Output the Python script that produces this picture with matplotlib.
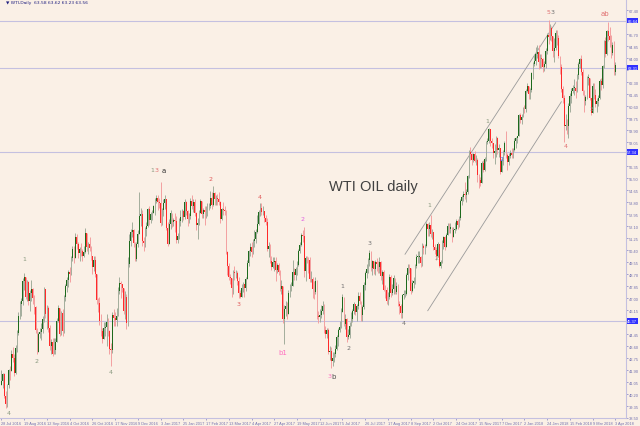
import numpy as np
import matplotlib
matplotlib.use("Agg")
import matplotlib.pyplot as plt

# daily WTI bars, 28 Jul 2016 .. 3 Apr 2018 (open = previous close)
closes = [
    # Jul/Aug 2016
    41.14, 41.6, 40.06, 39.51, 40.83, 41.93, 41.8, 43.02, 42.77, 41.71, 43.49, 44.49, 45.74,
    46.58, 46.79, 48.22, 48.52, 47.05, 48.1, 46.77, 47.33, 47.64, 46.98, 46.35, 44.7,
    # Sep 2016
    43.16, 44.44, 44.6, 44.83, 45.5, 47.62, 45.88, 46.29, 44.9, 43.58, 43.91, 43.03, 43.3,
    43.85, 45.34, 46.32, 44.48, 45.93, 44.67, 47.05, 47.83, 48.24,
    # Oct 2016
    48.81, 48.69, 49.83, 50.44, 49.81, 51.35, 50.79, 50.18, 50.44, 50.35, 49.94, 50.29, 51.6,
    50.63, 50.85, 50.52, 49.96, 49.18, 49.72, 48.7, 46.86,
    # Nov 2016
    46.67, 45.34, 44.66, 44.07, 44.89, 44.98, 45.27, 44.66, 43.41, 43.32, 45.81, 45.57, 45.42,
    45.69, 47.49, 48.03, 47.96, 47.7, 46.06, 47.08, 45.23, 49.44,
    # Dec 2016
    51.06, 51.68, 51.79, 50.93, 49.77, 50.84, 51.5, 52.83, 52.98, 51.04, 50.9, 51.9, 52.12,
    53.3, 52.49, 52.95, 53.02, 53.5, 53.9, 54.06, 53.77, 53.72,
    # Jan 2017
    52.33, 53.26, 53.76, 53.99, 51.96, 50.82, 52.25, 53.01, 52.37, 52.5, 52.48, 51.08, 51.37,
    52.42, 52.75, 53.18, 52.75, 53.78, 53.17, 52.63, 52.81,
    # Feb 2017
    53.88, 53.54, 53.83, 53.01, 52.17, 52.34, 53.0, 53.86, 52.93, 53.2, 53.11, 53.36, 53.4,
    53.5, 54.06, 53.59, 54.45, 53.99, 54.05, 54.01,
    # Mar 2017
    53.83, 52.61, 53.33, 53.2, 53.14, 50.28, 49.28, 48.49, 48.4, 47.72, 48.86, 48.75, 48.78,
    48.22, 47.34, 47.04, 47.7, 47.97, 47.73, 48.37, 49.51, 50.35, 50.6,
    # Apr 2017
    50.24, 51.03, 51.15, 51.7, 52.24, 53.08, 53.4, 53.11, 53.18, 52.65, 52.41, 50.44, 50.71,
    49.62, 49.23, 49.56, 49.62, 48.97, 49.33,
    # May 2017
    48.84, 47.66, 47.82, 45.52, 46.22, 46.43, 45.88, 47.33, 47.83, 47.84, 48.85, 48.66, 49.07,
    49.35, 50.33, 50.73, 51.47, 51.36, 48.9, 49.8, 49.7, 49.66, 48.32,
    # Jun 2017
    48.36, 47.66, 47.4, 48.19, 45.72, 45.64, 45.83, 46.08, 46.46, 44.73, 44.46, 44.74, 43.2,
    43.23, 42.53, 42.74, 43.01, 43.38, 44.24, 44.74, 44.93, 46.04,
    # Jul 2017
    47.07, 45.13, 45.52, 44.23, 44.4, 45.04, 45.49, 46.08, 46.54, 46.02, 46.4, 47.12, 46.79,
    45.77, 46.34, 47.89, 48.75, 49.04, 49.71, 50.17,
    # Aug 2017
    49.16, 49.59, 49.03, 49.58, 49.39, 49.17, 49.56, 48.59, 48.82, 47.59, 47.55, 46.78, 47.09,
    48.51, 47.37, 47.64, 48.41, 47.43, 47.87, 46.57, 46.44, 45.96, 47.23,
    # Sep 2017
    47.29, 47.3, 48.66, 49.16, 49.09, 47.48, 48.07, 48.23, 49.3, 49.89, 49.89, 49.91, 49.48,
    50.69, 50.55, 50.66, 52.22, 51.88, 52.14, 51.56, 51.67,
    # Oct 2017
    50.58, 50.42, 49.98, 50.79, 49.29, 49.58, 50.92, 51.3, 50.6, 51.45, 52.12, 51.88, 52.04,
    51.29, 51.84, 51.9, 52.47, 52.18, 52.64, 53.9, 54.15, 54.38,
    # Nov 2017
    54.3, 54.54, 55.64, 57.35, 57.2, 56.81, 57.17, 56.74, 56.76, 55.7, 55.33, 55.14, 56.55,
    56.09, 56.83, 58.02, 58.1, 58.95, 58.11, 57.99, 57.3, 57.4,
    # Dec 2017
    58.36, 57.47, 57.62, 55.96, 56.69, 57.36, 57.99, 57.14, 56.6, 57.04, 57.3, 57.16, 57.46,
    58.09, 58.36, 58.47, 59.97, 59.64, 59.84, 60.42,
    # Jan 2018
    60.37, 61.63, 62.01, 61.44, 61.73, 62.96, 63.57, 63.8, 64.3, 64.4, 63.73, 63.97, 63.95,
    63.37, 63.57, 64.47, 65.61, 65.51, 66.14, 65.56, 64.5, 64.73,
    # Feb 2018
    65.8, 65.45, 64.15, 63.39, 61.79, 61.15, 59.2, 59.29, 59.19, 60.6, 61.34, 61.68, 61.9,
    61.9, 61.68, 62.77, 63.55, 63.91, 63.01, 61.64,
    # Mar/Apr 2018
    60.99, 61.25, 62.57, 62.6, 61.15, 60.12, 62.04, 61.36, 60.71, 60.96, 61.19, 62.34, 62.06,
    63.4, 65.17, 64.3, 65.88, 65.55, 65.25, 64.38, 64.94, 63.01, 63.51,
]

highs = [
    41.9, 41.7, 41.7, 40.4, 40.9, 42.0, 42.2, 43.3, 43.5, 43.0, 43.7, 44.7, 46.0,
    46.8, 47.0, 48.4, 48.75, 48.5, 48.3, 48.2, 47.6, 48.3, 47.7, 47.2, 46.4,
    44.9, 44.6, 44.9, 45.2, 45.7, 47.8, 47.4, 46.5, 46.4, 45.1, 44.1, 44.2, 44.2,
    44.2, 45.6, 46.5, 46.3, 46.1, 46.2, 47.2, 48.0, 48.5,
    49.0, 49.2, 50.0, 50.7, 50.7, 51.6, 51.5, 51.0, 50.6, 50.9, 50.5, 50.7, 51.93,
    51.6, 51.0, 51.3, 50.7, 50.0, 50.0, 50.0, 48.7,
    47.0, 47.1, 45.9, 44.9, 45.3, 45.3, 45.9, 45.6, 44.7, 43.8, 46.0, 46.2, 46.0,
    46.3, 47.8, 48.5, 48.2, 48.0, 47.7, 47.5, 47.3, 49.9,
    51.5, 51.9, 52.4, 51.9, 51.0, 51.0, 51.8, 54.5, 53.4, 53.2, 51.3, 52.0, 52.4,
    53.4, 53.5, 53.1, 53.2, 53.6, 54.1, 54.3, 54.3, 54.1,
    55.24, 53.4, 54.0, 54.3, 54.0, 52.4, 52.6, 53.2, 53.0, 52.7, 53.0, 52.8, 51.6,
    52.7, 53.2, 53.3, 53.2, 54.0, 53.9, 53.2, 53.0,
    54.1, 54.3, 54.0, 54.0, 53.1, 52.7, 53.2, 54.0, 53.8, 53.4, 53.5, 53.5, 53.7,
    53.7, 54.6, 54.5, 54.94, 54.5, 54.3, 54.4,
    54.5, 53.9, 53.4, 53.8, 53.5, 53.2, 50.3, 49.5, 48.7, 48.4, 49.0, 49.3, 49.0,
    48.9, 48.5, 47.6, 48.0, 48.1, 48.0, 48.5, 49.7, 50.4, 50.9,
    51.0, 51.2, 51.8, 51.9, 52.9, 53.2, 53.7, 53.76, 53.5, 53.1, 52.9, 52.7, 51.0,
    50.8, 50.0, 49.9, 49.9, 49.9, 49.5,
    49.5, 49.0, 48.3, 47.8, 46.5, 46.8, 46.7, 47.6, 48.0, 48.1, 49.7, 49.1, 49.2,
    49.6, 50.5, 51.0, 51.6, 51.8, 52.0, 50.0, 50.0, 49.9, 49.9,
    48.9, 48.5, 48.2, 48.5, 48.3, 46.1, 46.2, 46.5, 46.8, 46.6, 45.0, 44.9, 44.9,
    43.6, 43.5, 43.2, 43.2, 43.7, 44.4, 44.9, 45.4, 46.3,
    47.3, 47.1, 45.9, 45.6, 44.8, 45.3, 46.0, 46.2, 46.7, 46.6, 46.6, 47.4, 47.4,
    46.8, 46.5, 48.1, 48.9, 49.4, 49.8, 50.43,
    50.3, 49.7, 49.6, 49.7, 49.8, 49.6, 49.9, 49.6, 49.0, 49.0, 47.9, 47.8, 47.4,
    48.7, 48.6, 48.0, 48.6, 48.4, 48.1, 48.0, 46.8, 46.6, 47.3,
    47.6, 47.6, 48.8, 49.4, 49.4, 49.0, 48.3, 48.5, 49.4, 50.1, 50.3, 50.3, 50.0,
    50.9, 50.8, 50.8, 52.4, 52.3, 52.4, 52.86, 51.9,
    51.7, 50.8, 50.6, 51.0, 50.7, 49.7, 51.1, 51.4, 51.4, 51.6, 52.3, 52.3, 52.3,
    52.0, 52.0, 52.4, 52.6, 52.6, 52.8, 54.0, 54.3, 54.6,
    55.2, 54.7, 55.7, 57.5, 57.7, 57.3, 57.3, 57.4, 57.1, 56.9, 55.8, 55.6, 56.7,
    56.8, 57.0, 58.1, 58.3, 59.05, 59.0, 58.3, 58.0, 57.9,
    58.5, 58.4, 57.9, 57.6, 56.9, 57.5, 58.1, 58.8, 57.3, 57.3, 57.5, 57.6, 57.6,
    58.3, 58.4, 58.5, 60.0, 60.1, 60.0, 60.5,
    60.7, 61.8, 62.2, 62.0, 61.9, 63.0, 63.7, 64.2, 64.8, 64.9, 64.9, 64.3, 64.3,
    64.0, 63.8, 64.7, 65.8, 66.66, 66.4, 66.3, 65.5, 65.4,
    66.0, 66.0, 65.6, 64.1, 63.6, 62.0, 61.4, 60.0, 59.7, 60.8, 61.5, 61.9, 62.1,
    62.5, 62.4, 62.9, 63.7, 64.0, 64.2, 63.2,
    61.7, 61.4, 62.7, 62.9, 62.5, 61.2, 62.2, 62.2, 61.8, 61.2, 61.4, 62.5, 62.6,
    63.5, 65.3, 65.5, 66.0, 66.55, 66.2, 65.6, 65.1, 65.2, 63.7,
]

lows = [
    40.9, 40.6, 39.9, 39.19, 39.3, 40.6, 41.2, 41.8, 42.5, 41.5, 41.6, 43.2, 44.4,
    45.5, 45.7, 46.5, 47.6, 46.9, 46.8, 46.5, 46.1, 46.8, 46.6, 45.9, 44.5,
    43.0, 43.2, 44.2, 44.0, 44.5, 45.3, 45.6, 44.8, 44.6, 43.3, 43.0, 42.9, 43.0,
    43.0, 43.9, 45.3, 44.3, 44.4, 44.3, 44.5, 46.8, 47.4,
    47.8, 48.1, 48.6, 49.6, 49.5, 49.8, 50.5, 49.8, 49.6, 50.0, 49.6, 49.9, 50.2,
    50.3, 50.1, 50.3, 49.7, 48.7, 48.9, 48.5, 46.6,
    46.0, 45.1, 44.3, 43.8, 44.2, 44.3, 43.6, 44.3, 43.0, 42.2, 43.1, 45.0, 45.0,
    45.0, 45.8, 47.3, 47.0, 47.4, 45.9, 45.5, 44.8, 45.0,
    49.2, 50.7, 51.3, 50.6, 49.6, 49.6, 50.6, 52.2, 52.1, 50.7, 50.3, 50.6, 51.4,
    52.0, 52.2, 52.3, 52.5, 53.0, 52.9, 53.7, 53.2, 53.4,
    52.1, 52.2, 52.8, 53.3, 51.8, 50.7, 50.9, 51.9, 52.0, 52.1, 51.7, 50.9, 50.9,
    51.2, 52.1, 52.4, 52.5, 52.6, 52.9, 52.1, 52.3,
    52.6, 53.3, 53.1, 52.8, 51.8, 51.2, 52.2, 53.0, 52.7, 52.7, 52.2, 52.7, 52.8,
    53.2, 53.4, 53.3, 53.5, 53.6, 53.6, 53.6,
    53.6, 52.3, 52.5, 52.9, 52.9, 50.1, 48.6, 48.3, 48.0, 47.1, 47.3, 48.3, 48.4,
    47.9, 47.0, 47.0, 47.1, 47.4, 47.1, 47.5, 48.4, 49.3, 50.0,
    49.9, 50.1, 50.6, 50.9, 51.6, 52.2, 52.8, 52.9, 52.9, 52.4, 52.2, 50.3, 49.9,
    49.5, 49.0, 49.1, 48.9, 48.2, 48.8,
    48.6, 47.5, 47.3, 45.2, 43.76, 45.7, 45.5, 45.9, 47.1, 47.5, 48.1, 48.3, 48.3,
    48.6, 49.3, 50.2, 50.7, 51.0, 48.5, 48.2, 49.5, 48.8, 48.1,
    48.1, 47.0, 46.9, 47.3, 45.5, 45.2, 45.3, 45.6, 45.9, 44.5, 44.2, 44.2, 43.0,
    42.6, 42.05, 42.2, 42.5, 42.8, 43.3, 43.6, 44.6, 44.9,
    46.0, 45.0, 44.8, 43.9, 44.1, 44.2, 45.1, 45.3, 45.9, 45.8, 45.4, 46.2, 46.6,
    45.4, 45.4, 46.2, 47.6, 48.4, 48.8, 49.3,
    48.9, 48.6, 48.7, 48.6, 48.9, 48.8, 48.8, 48.3, 48.0, 47.5, 47.0, 46.6, 46.5,
    46.9, 47.1, 47.2, 47.3, 47.3, 47.3, 46.4, 45.9, 45.6, 45.58,
    46.9, 47.1, 47.2, 48.3, 48.8, 47.3, 47.4, 47.7, 48.0, 49.1, 49.5, 49.5, 49.2,
    49.3, 50.1, 50.1, 50.6, 51.4, 51.4, 51.3, 51.2,
    50.4, 50.1, 49.7, 49.9, 49.2, 49.1, 49.5, 50.5, 50.4, 50.7, 51.5, 51.6, 51.6,
    51.0, 51.3, 51.6, 51.8, 51.9, 52.0, 52.5, 53.6, 53.9,
    54.0, 53.8, 54.4, 55.5, 56.8, 56.4, 56.6, 56.6, 56.4, 55.2, 54.8, 54.9, 55.2,
    55.9, 56.0, 56.7, 57.9, 58.0, 57.8, 57.6, 56.9, 56.5,
    57.0, 57.2, 57.0, 55.8, 55.9, 56.4, 57.1, 56.9, 56.1, 56.4, 56.9, 56.9, 56.9,
    57.4, 57.6, 58.0, 58.5, 59.4, 59.3, 59.8,
    60.1, 60.2, 61.6, 61.1, 61.1, 61.6, 62.5, 63.4, 63.5, 64.0, 63.2, 63.3, 63.3,
    63.0, 63.1, 63.3, 64.3, 65.0, 65.3, 65.2, 64.1, 63.7,
    64.6, 64.9, 64.0, 62.9, 61.6, 60.8, 58.07, 58.9, 58.6, 58.3, 60.2, 60.8, 61.5,
    61.4, 61.2, 61.6, 62.5, 63.3, 62.8, 61.4,
    60.2, 60.7, 61.1, 62.1, 61.0, 59.95, 60.1, 61.1, 60.5, 60.2, 60.6, 61.1, 61.7,
    61.9, 63.3, 64.1, 64.2, 65.2, 64.8, 64.0, 64.2, 62.8, 62.8,
]

# x axis labels, one every 16 bars
date_labels = ["28 Jul 2016", "19 Aug 2016", "12 Sep 2016", "4 Oct 2016", "26 Oct 2016",
               "17 Nov 2016", "9 Dec 2016", "3 Jan 2017", "25 Jan 2017", "17 Feb 2017",
               "13 Mar 2017", "4 Apr 2017", "27 Apr 2017", "19 May 2017", "12 Jun 2017",
               "5 Jul 2017", "26 Jul 2017", "17 Aug 2017", "8 Sep 2017", "2 Oct 2017",
               "24 Oct 2017", "15 Nov 2017", "7 Dec 2017", "2 Jan 2018", "24 Jan 2018",
               "15 Feb 2018", "9 Mar 2018", "3 Apr 2018"]

# horizontal levels
levels = [66.64, 63.31, 57.34, 45.37]

# wave count marks: text, bar, price, colour
wave_text = ["4", "1", "2", "4", "1", "3", "a", "2", "3", "4", "b1", "2", "3", "b",
             "1", "2", "3", "4", "1", "2", "1", "2", "5", "3", "4", "1", "3", "ab"]
wave_bar = [5, 16, 25, 77, 106, 109, 114, 147, 167, 182, 198, 212, 231, 234,
            240, 244, 259, 283, 301, 306, 342, 352, 385, 388, 397, 406, 415, 425]
wave_price = [38.9, 49.8, 42.6, 41.8, 56.1, 56.1, 56.1, 55.5, 46.6, 54.2, 43.2, 52.6, 41.5, 41.5,
              47.9, 43.5, 50.9, 45.3, 53.6, 49.9, 59.6, 56.9, 67.3, 67.3, 57.8, 63.5, 60.4, 67.2]
wave_color = ["#8a9a80", "#8a9a80", "#8a9a80", "#8a9a80", "#8a9a80", "#e07070", "#303030",
              "#e05a5a", "#e05a5a", "#e05a5a", "#ff70c0", "#e060e0", "#ff70c0", "#505050",
              "#707070", "#707070", "#707070", "#707070", "#8a9a80", "#8a9a80", "#8a9a80",
              "#4060e0", "#e07070", "#707070", "#e07070", "#8a9a80", "#8a9a80", "#e07070"]

# channel lines (bar, price)
chan_up = [(284, 50.1), (390, 66.5)]
chan_dn = [(300, 46.1), (394, 60.9)]

bg = "#faf0e6"
lvl_col = "#c4c0e0"
closes = np.array(closes)
highs = np.array(highs)
lows = np.array(lows)
opens = np.r_[closes[0] - 0.3, closes[:-1]]
highs = np.maximum(highs, np.maximum(opens, closes))
lows = np.minimum(lows, np.minimum(opens, closes))
idx = np.arange(len(closes))
up = closes >= opens

fig = plt.figure(figsize=(6.4, 4.27), dpi=100, facecolor=bg)
ax = fig.add_axes([0.0, 8 / 427, 626 / 640, 419 / 427], facecolor=bg)

for lv in levels:
    ax.axhline(lv, color=lvl_col, lw=0.8, zorder=1)
for (x0, y0), (x1, y1) in (chan_up, chan_dn):
    ax.plot([x0, x1], [y0, y1], color="#9a9a9a", lw=0.6, zorder=2)

ax.vlines(idx[up], lows[up], highs[up], color="#a3ad9c", lw=0.7, zorder=3)
ax.vlines(idx[~up], lows[~up], highs[~up], color="#f3a0a0", lw=0.7, zorder=3)
body_h = np.maximum(np.abs(closes - opens), 0.05)
ax.bar(idx[up], body_h[up], bottom=np.minimum(opens, closes)[up], width=0.55,
       color="#1d6a1d", lw=0, zorder=4)
ax.bar(idx[~up], body_h[~up], bottom=np.minimum(opens, closes)[~up], width=0.55,
       color="#ff2a2a", lw=0, zorder=4)

for t, b, p, c in zip(wave_text, wave_bar, wave_price, wave_color):
    ax.text(b, p, t, color=c, fontsize=4.5 if t not in ("a", "b", "ab", "b1") else 5,
            ha="center", va="center", zorder=5)

ax.text(262, 54.9, "WTI OIL daily", family="Liberation Sans", fontsize=10.5,
        color="#404040", ha="center", va="center", zorder=5)
ax.text(3, 67.95, "\u25bc WTI,Daily  63.58 63.62 63.23 63.56", fontsize=3.2,
        color="#202080", ha="left", va="center")

ax.set_xlim(-1, 439.5)
ax.set_ylim(38.5, 68.18)
ax.yaxis.tick_right()
yt = 67.40 - 0.85 * np.arange(35)
ax.set_yticks(yt)
# price labels hidden where a level label sits on top of them
ax.set_yticklabels(["" if min(abs(v - lv) for lv in levels) < 0.5 else f"{v:.2f}" for v in yt],
                   family="Liberation Sans")
ax.set_xticks(np.arange(len(date_labels)) * 16)
ax.set_xticklabels(date_labels, ha="left", family="Liberation Sans")
ax.tick_params(axis="y", labelsize=2.9, length=1.5, width=0.5, pad=0.6, color="#8080c0")
ax.tick_params(axis="x", labelsize=2.8, length=1.5, width=0.5, pad=0.4, color="#8080c0")
for lbl in ax.get_yticklabels() + ax.get_xticklabels():
    lbl.set_color("#7070b0")
for s in ax.spines.values():
    s.set_visible(False)
ax.spines["right"].set_visible(True)
ax.spines["bottom"].set_visible(True)
ax.spines["right"].set_color(lvl_col)
ax.spines["bottom"].set_color(lvl_col)

for lv in levels:
    ax.text(1.002, lv, f"{lv:.2f}", transform=ax.get_yaxis_transform(), fontsize=2.9,
            family="Liberation Sans", color="white", ha="left", va="center",
            bbox=dict(boxstyle="square,pad=0.15", fc="#3030ff", ec="none"), zorder=6)

fig.savefig("out.png", dpi=100, facecolor=bg)
